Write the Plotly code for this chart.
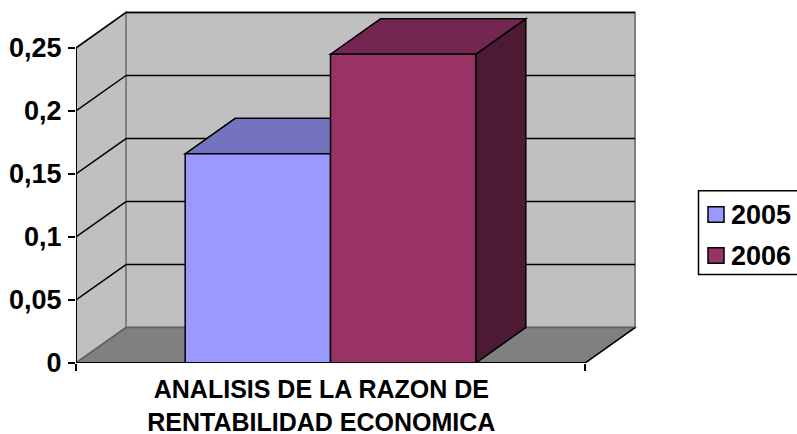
import plotly.graph_objects as go

# values
years = ['2005', '2006']
values = [0.166, 0.245]
front_colors = ['#9999FF', '#993366']
top_colors = ['#7373BF', '#732650']
side_colors = ['#39396B', '#4D1A33']
category_lines = ['ANALISIS DE LA RAZON DE', 'RENTABILIDAD ECONOMICA']
y_ticks = [0, 0.05, 0.1, 0.15, 0.2, 0.25]
y_labels = ['0', '0,05', '0,1', '0,15', '0,2', '0,25']

# depth of the fake 3d box, in axis units
DX = 50 / 509
DY = 35.5 / 1262
Y_MAX = 0.25
BAR_W = 0.2855
FAMILY = 'Liberation Sans, Arial, sans-serif'


def poly(points, fill, line_color='black', width=1.5):
    path = 'M' + ' L'.join(f'{x},{y}' for x, y in points) + ' Z'
    return dict(type='path', path=path, xref='x', yref='y', layer='below',
                fillcolor=fill, line=dict(color=line_color, width=width))


def seg(x0, y0, x1, y1, color='black', width=1.5):
    return dict(type='line', x0=x0, y0=y0, x1=x1, y1=y1, xref='x', yref='y', layer='below',
                line=dict(color=color, width=width))


def paper_x(px):
    return (px - 76) / 565


def paper_y(py):
    return (363.5 - py) / 356.5


def paper_rect(x0, y0, x1, y1, fill, line_width):
    return dict(type='rect', xref='paper', yref='paper', layer='above',
                x0=paper_x(x0), x1=paper_x(x1), y0=paper_y(y0), y1=paper_y(y1),
                fillcolor=fill, line=dict(color='black', width=line_width))


shapes = [
    poly([(DX, DY), (1 + DX, DY), (1 + DX, Y_MAX + DY), (DX, Y_MAX + DY)], '#C0C0C0', '#808080', 2),
    poly([(0, 0), (DX, DY), (DX, Y_MAX + DY), (0, Y_MAX)], '#C0C0C0', '#808080', 2),
]
for t in y_ticks[1:]:
    shapes.append(seg(0, t, DX, t + DY))
    shapes.append(seg(DX, t + DY, 1 + DX, t + DY))
shapes.append(poly([(0, 0), (1, 0), (1 + DX, DY), (DX, DY)], '#808080', '#606060', 1.5))
shapes.append(seg(1, 0, 1 + DX, DY))

# legend box is drawn by hand, plotly's swatch and text gap are too wide here
shapes.append(paper_rect(698.5, 191, 802, 275, 'white', 1.5))
annotations = []

# top and side faces of the bars sit under the bar traces
fig = go.Figure()
start = 0.5 - BAR_W
for i, (year, v) in enumerate(zip(years, values)):
    x0 = start + i * BAR_W
    x1 = x0 + BAR_W
    shapes.append(poly([(x1, 0), (x1 + DX, DY), (x1 + DX, v + DY), (x1, v)], side_colors[i]))
    shapes.append(poly([(x0, v), (x0 + DX, v + DY), (x1 + DX, v + DY), (x1, v)], top_colors[i]))
    fig.add_trace(go.Bar(x=[0.5], y=[v], name=year, width=BAR_W, offset=i * BAR_W - BAR_W,
                         marker=dict(color=front_colors[i], line=dict(color='black', width=1.5))))
    row_y = 207 + i * 41
    shapes.append(paper_rect(708, row_y, 724, row_y + 15.5, front_colors[i], 1.5))
    annotations.append(dict(xref='paper', yref='paper', x=paper_x(729), y=paper_y(row_y + 8),
                            xanchor='left', yanchor='middle', showarrow=False,
                            text=f'<b>{year}</b>', font=dict(size=27)))

fig.add_trace(go.Scatter(x=[0, 0], y=[0, Y_MAX], mode='lines', cliponaxis=False,
                         line=dict(color='black', width=2), hoverinfo='skip'))
fig.add_trace(go.Scatter(x=[0, 1], y=[0, 0], mode='lines', cliponaxis=False,
                         line=dict(color='black', width=2), hoverinfo='skip'))

fig.update_layout(
    width=797, height=434,
    margin=dict(l=76, r=156, t=7, b=70.5, autoexpand=False),
    paper_bgcolor='white', plot_bgcolor='white',
    barmode='overlay',
    showlegend=False,
    shapes=shapes,
    annotations=annotations,
    font=dict(family=FAMILY, color='black', size=27),
)
fig.update_xaxes(range=[0, 1 + DX + 6 / 509], showgrid=False, zeroline=False, showline=False,
                 tickvals=[0.482], ticktext=['<br>'.join(f'<b>{s}</b>' for s in category_lines)],
                 ticks='', ticklabelstandoff=9,
                 minor=dict(tickvals=[0, 1], ticks='outside', ticklen=7, tickwidth=1.5, tickcolor='black'),
                 tickfont=dict(size=25), fixedrange=True)
fig.update_yaxes(range=[0, 356.5 / 1262], showgrid=False, zeroline=False, showline=False,
                 tickvals=y_ticks, ticktext=[f'<b>{s}</b>' for s in y_labels],
                 ticks='outside', ticklen=7, tickwidth=1.5, tickcolor='black',
                 ticklabelstandoff=1, fixedrange=True)

fig.write_html('out.html', post_script="document.body.style.margin='0';",
               config=dict(displayModeBar=False))
